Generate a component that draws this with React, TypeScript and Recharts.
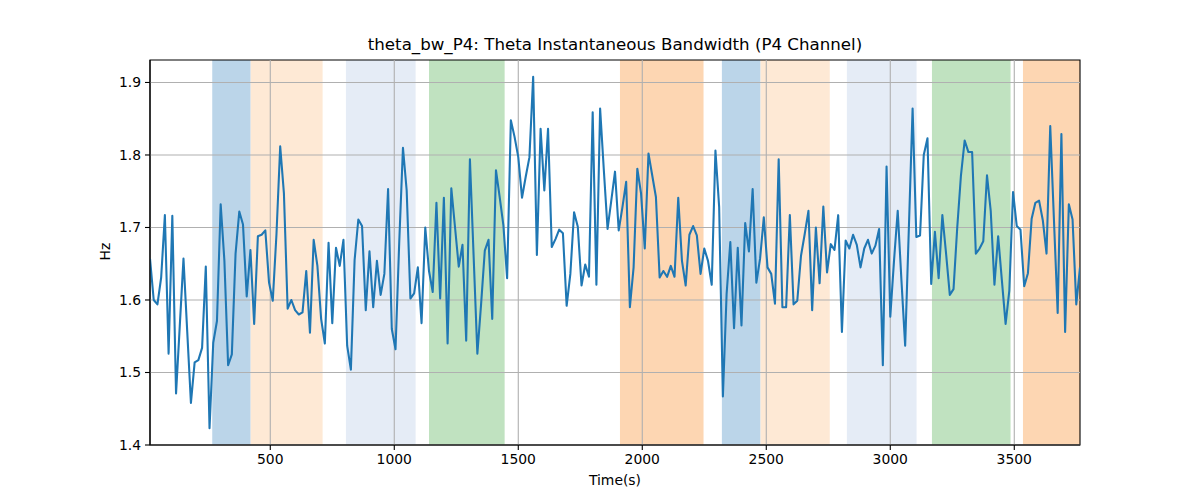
import React from 'react';
import { LineChart, Line, XAxis, YAxis, ReferenceArea, ReferenceLine } from 'recharts';

const T0 = 15;
const STEP = 15;

const bandwidth: number[] = [
  1.657, 1.600, 1.594, 1.631, 1.717, 1.526, 1.716, 1.471, 1.564, 1.657,
  1.557, 1.458, 1.514, 1.517, 1.534, 1.646, 1.423, 1.541, 1.571, 1.732,
  1.654, 1.510, 1.525, 1.664, 1.722, 1.704, 1.605, 1.669, 1.567, 1.688,
  1.690, 1.696, 1.624, 1.599, 1.691, 1.812, 1.747, 1.588, 1.600, 1.586,
  1.580, 1.583, 1.640, 1.555, 1.683, 1.647, 1.574, 1.540, 1.679, 1.568,
  1.672, 1.647, 1.683, 1.537, 1.504, 1.655, 1.711, 1.702, 1.586, 1.667,
  1.590, 1.654, 1.607, 1.636, 1.753, 1.560, 1.532, 1.680, 1.810, 1.751,
  1.602, 1.609, 1.645, 1.568, 1.700, 1.640, 1.611, 1.734, 1.602, 1.741,
  1.540, 1.754, 1.700, 1.646, 1.676, 1.544, 1.794, 1.660, 1.526, 1.594,
  1.668, 1.683, 1.574, 1.779, 1.742, 1.703, 1.630, 1.848, 1.825, 1.797,
  1.741, 1.770, 1.797, 1.908, 1.662, 1.836, 1.751, 1.836, 1.673, 1.684,
  1.697, 1.692, 1.592, 1.636, 1.721, 1.701, 1.620, 1.649, 1.632, 1.859,
  1.621, 1.864, 1.779, 1.698, 1.737, 1.777, 1.696, 1.728, 1.763, 1.590,
  1.645, 1.781, 1.747, 1.671, 1.802, 1.772, 1.742, 1.631, 1.640, 1.632,
  1.647, 1.632, 1.741, 1.654, 1.620, 1.690, 1.702, 1.689, 1.636, 1.671,
  1.654, 1.621, 1.806, 1.728, 1.467, 1.608, 1.680, 1.561, 1.672, 1.565,
  1.706, 1.667, 1.753, 1.624, 1.657, 1.714, 1.645, 1.636, 1.595, 1.794,
  1.590, 1.590, 1.717, 1.594, 1.599, 1.661, 1.691, 1.723, 1.586, 1.700,
  1.623, 1.729, 1.638, 1.677, 1.669, 1.717, 1.556, 1.682, 1.671, 1.690,
  1.676, 1.645, 1.671, 1.683, 1.664, 1.675, 1.698, 1.510, 1.784, 1.577,
  1.654, 1.723, 1.627, 1.537, 1.700, 1.864, 1.687, 1.689, 1.800, 1.823,
  1.622, 1.694, 1.630, 1.717, 1.664, 1.607, 1.615, 1.700, 1.772, 1.820,
  1.804, 1.804, 1.664, 1.671, 1.681, 1.772, 1.723, 1.621, 1.688, 1.627,
  1.567, 1.613, 1.749, 1.702, 1.697, 1.619, 1.637, 1.712, 1.734, 1.737,
  1.710, 1.664, 1.840, 1.710, 1.582, 1.829, 1.556, 1.732, 1.711, 1.594,
  1.645,
];

const shadeStarts: number[] = [266, 421, 805, 1140, 1910, 2321, 2477, 2825, 3168, 3535];
const shadeEnds: number[] = [421, 711, 1086, 1445, 2247, 2477, 2756, 3106, 3485, 3765];
const shadeColors: string[] = [
  '#bbd5e9', '#fee9d5', '#e5ecf6', '#c0e2c0', '#fdd6b2',
  '#bbd5e9', '#fee9d5', '#e5ecf6', '#c0e2c0', '#fdd6b2',
];

const xTicks: number[] = [500, 1000, 1500, 2000, 2500, 3000, 3500];
const yTicks: number[] = [1.4, 1.5, 1.6, 1.7, 1.8, 1.9];

const X_MIN = 15;
const X_MAX = 3765;
const Y_MIN = 1.4;
const Y_MAX = 1.931;

const data = bandwidth.map((v, i) => ({ t: T0 + i * STEP, v }));

const FONT = 'DejaVu Sans, sans-serif';

export default function App() {
  return (
    <div style={{ position: 'absolute', left: 0, top: 0, width: 1200, height: 500, background: '#fff', fontFamily: FONT }}>
      <LineChart
        width={1200}
        height={500}
        data={data}
        margin={{ top: 60, right: 120, bottom: 25, left: 90 }}
      >
        <XAxis
          dataKey="t"
          type="number"
          domain={[X_MIN, X_MAX]}
          ticks={xTicks}
          allowDataOverflow
          height={30}
          tickSize={5}
          tickMargin={4}
          stroke="#000"
          tick={{ fill: '#000', fontSize: 13.9, fontFamily: FONT }}
          tickLine={{ stroke: '#000', strokeWidth: 1.1 }}
          axisLine={{ stroke: '#000', strokeWidth: 1.1 }}
        />
        <YAxis
          type="number"
          domain={[Y_MIN, Y_MAX]}
          ticks={yTicks}
          allowDataOverflow
          width={60}
          tickSize={5}
          tickMargin={4}
          tickFormatter={(v: number) => v.toFixed(1)}
          stroke="#000"
          tick={{ fill: '#000', fontSize: 13.9, fontFamily: FONT }}
          tickLine={{ stroke: '#000', strokeWidth: 1.1 }}
          axisLine={{ stroke: '#000', strokeWidth: 1.1 }}
        />
        {shadeStarts.map((s, i) => (
          <ReferenceArea
            key={'s' + i}
            x1={s}
            x2={shadeEnds[i]}
            y1={Y_MIN}
            y2={Y_MAX}
            fill={shadeColors[i]}
            fillOpacity={1}
            stroke="none"
            ifOverflow="hidden"
          />
        ))}
        {xTicks.map((t) => (
          <ReferenceLine key={'gx' + t} x={t} stroke="#b0b0b0" strokeWidth={1.1} />
        ))}
        {yTicks.map((t) => (
          <ReferenceLine key={'gy' + t} y={t} stroke="#b0b0b0" strokeWidth={1.1} />
        ))}
        <Line
          type="linear"
          dataKey="v"
          stroke="#1f77b4"
          strokeWidth={2.08}
          strokeLinejoin="round"
          dot={false}
          isAnimationActive={false}
        />
        <ReferenceArea
          x1={X_MIN}
          x2={X_MAX}
          y1={Y_MIN}
          y2={Y_MAX}
          fill="none"
          stroke="#000"
          strokeWidth={1.1}
        />
      </LineChart>
      <div style={{ position: 'absolute', left: 150, width: 930, top: 35, textAlign: 'center', fontSize: 16.67, color: '#000', lineHeight: '20px' }}>
        theta_bw_P4: Theta Instantaneous Bandwidth (P4 Channel)
      </div>
      <div style={{ position: 'absolute', left: 150, width: 930, top: 472, textAlign: 'center', fontSize: 13.9, color: '#000', lineHeight: '17px' }}>
        Time(s)
      </div>
      <div style={{ position: 'absolute', left: 85, top: 243, width: 40, textAlign: 'center', fontSize: 13.9, color: '#000', lineHeight: '17px', transform: 'rotate(-90deg)' }}>
        Hz
      </div>
    </div>
  );
}
